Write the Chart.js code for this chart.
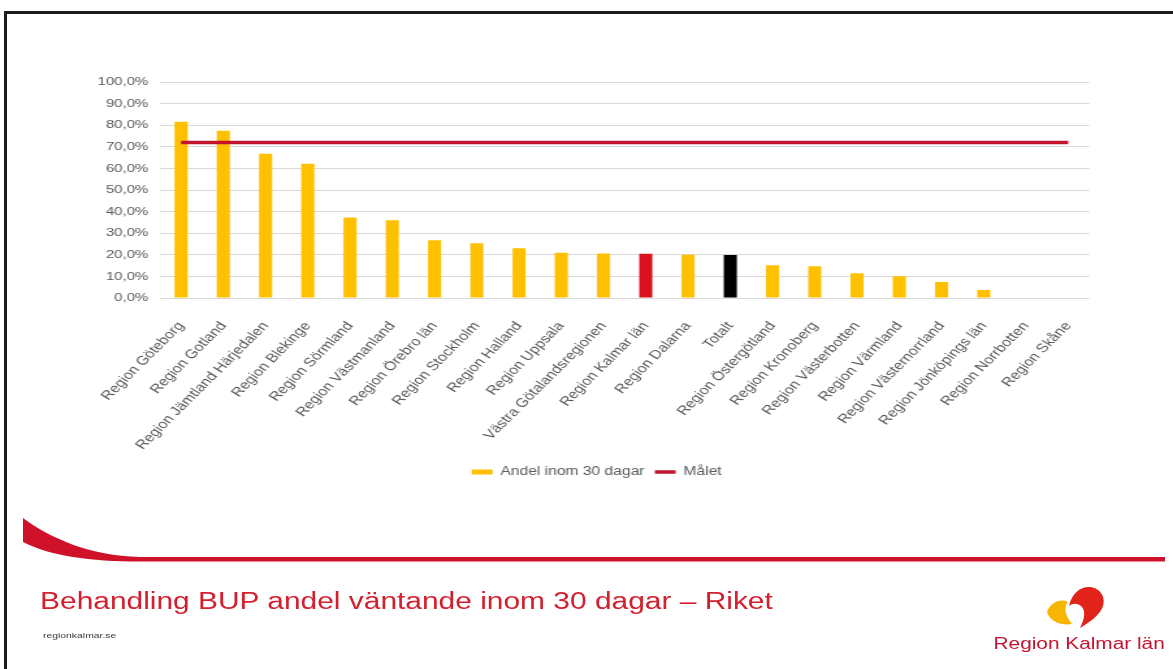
<!DOCTYPE html>
<html>
<head>
<meta charset="utf-8">
<script src="https://cdn.jsdelivr.net/npm/chart.js@4.4.1/dist/chart.umd.min.js"></script>
<style>
  html, body { margin: 0; padding: 0; background: #fff; overflow: hidden; width: 1173px; height: 669px; }
  #frame { position: absolute; left: 4px; top: 11px; width: 1175px; height: 670px; border-top: 3px solid #1c1c1c; border-left: 3px solid #1c1c1c; box-sizing: border-box; }
  #slide { position: absolute; left: 0; top: 0; width: 902px; height: 669px; transform: scaleX(1.30044); transform-origin: 0 0; }
  #chart { position: absolute; left: 0; top: 0; }
  .txt { position: absolute; font-family: "Liberation Sans", Arial, sans-serif; white-space: nowrap; }
  #title { left: 30.8px; top: 590px; font-size: 23px; line-height: 23px; color: #D2202F; }
  #url { left: 33px; top: 632px; font-size: 8px; line-height: 8px; color: #3a3a3a; }
  #logoText { left: 764px; top: 636px; width: 130px; text-align: center; font-size: 16px; line-height: 16px; color: #C4142F; }
  #deco { position: absolute; left: 0; top: 0; }
</style>
</head>
<body>
<svg id="deco" width="1173" height="669" viewBox="0 0 1173 669">
  <path d="M23,518 C50,538 90,556 140,557 L1165,557 L1165,561.5 L140,561.5 C90,561.5 50,556 23,542 Z" fill="#D0112A"/>
  <path d="M1069,606 C1072,592 1082,586 1090,587 C1100,588 1106,597 1103,606 C1100,615 1090,622 1080,628 C1084,620 1086,612 1082,607 C1078,603 1073,603 1069,606 Z" fill="#E2231A"/>
  <path d="M1047,612 C1050,603 1060,598 1068,602 C1064,606 1064,614 1072,624 C1062,626 1050,622 1047,612 Z" fill="#F7B500"/>
</svg>
<div id="frame"></div>
<div id="slide">
  <canvas id="chart" width="902" height="492"></canvas>
  <div class="txt" id="title">Behandling BUP andel väntande inom 30 dagar – Riket</div>
  <div class="txt" id="url">regionkalmar.se</div>
  <div class="txt" id="logoText">Region Kalmar län</div>
</div>
<script>
const categories = [
  "Region Göteborg", "Region Gotland", "Region Jämtland Härjedalen", "Region Blekinge",
  "Region Sörmland", "Region Västmanland", "Region Örebro län", "Region Stockholm",
  "Region Halland", "Region Uppsala", "Västra Götalandsregionen", "Region Kalmar län",
  "Region Dalarna", "Totalt", "Region Östergötland", "Region Kronoberg",
  "Region Västerbotten", "Region Värmland", "Region Västernorrland", "Region Jönköpings län",
  "Region Norrbotten", "Region Skåne"
];
const andelValues = [81.6, 77.4, 66.8, 62.2, 37.3, 36.0, 26.7, 25.3, 23.0, 21.0, 20.6, 20.5, 20.0, 19.9, 15.2, 14.7, 11.5, 10.1, 7.4, 3.7, 0, 0];
const maletValues = [72, 72, 72, 72, 72, 72, 72, 72, 72, 72, 72, 72, 72, 72, 72, 72, 72, 72, 72, 72, 72, 72];
const seriesNames = ["Andel inom 30 dagar", "Målet"];

const YELLOW = "#FFC000", KALMAR_RED = "#D9121F", BLACK = "#000000";
const barColors = categories.map(c => c === "Region Kalmar län" ? KALMAR_RED : (c === "Totalt" ? BLACK : YELLOW));
const textColor = "#595959";
const fontFamily = "'Liberation Sans', Arial, sans-serif";

// shifts the legend block horizontally (slide legend is centred a bit right of the canvas centre)
const legendShift = {
  id: "legendShift",
  afterLayout(chart) {
    const lg = chart.legend;
    if (lg) { lg.left += 15; lg.right += 15; }
  }
};

new Chart(document.getElementById("chart"), {
  type: "bar",
  plugins: [legendShift],
  data: {
    labels: categories,
    datasets: [
      {
        type: "bar",
        label: seriesNames[0],
        data: andelValues,
        backgroundColor: barColors,
        borderWidth: 0,
        barPercentage: 0.31,
        categoryPercentage: 1,
        pointStyle: "rect",
        order: 1
      },
      {
        type: "line",
        label: seriesNames[1],
        data: maletValues,
        borderColor: "#C3142D",
        backgroundColor: "#C3142D",
        borderWidth: 3.5,
        pointRadius: 0,
        pointStyle: "line",
        fill: false,
        order: 0
      }
    ]
  },
  options: {
    responsive: false,
    animation: false,
    devicePixelRatio: 1,
    layout: { padding: { left: 50, right: 64.3, top: 82, bottom: 4 } },
    plugins: {
      tooltip: { enabled: false },
      legend: {
        position: "bottom",
        labels: {
          usePointStyle: true,
          pointStyleWidth: 16,
          boxHeight: 5,
          padding: 8,
          color: textColor,
          font: { family: fontFamily, size: 12 },
          sort: (a, b) => a.datasetIndex - b.datasetIndex
        }
      }
    },
    scales: {
      x: {
        grid: { display: false },
        border: { display: false },
        ticks: {
          color: textColor,
          font: { family: fontFamily, size: 12.5 },
          minRotation: 52,
          maxRotation: 52,
          autoSkip: false,
          padding: 13
        },
        afterFit(s) { s.height = 160; }
      },
      y: {
        min: 0,
        max: 100,
        grid: { color: "#D9D9D9", drawTicks: false, lineWidth: 1 },
        border: { display: false },
        ticks: {
          stepSize: 10,
          color: textColor,
          font: { family: fontFamily, size: 11.5 },
          padding: 9,
          callback: v => v.toFixed(1).replace(".", ",") + "%"
        },
        afterFit(s) { s.width = 73; }
      }
    }
  }
});
</script>
</body>
</html>
